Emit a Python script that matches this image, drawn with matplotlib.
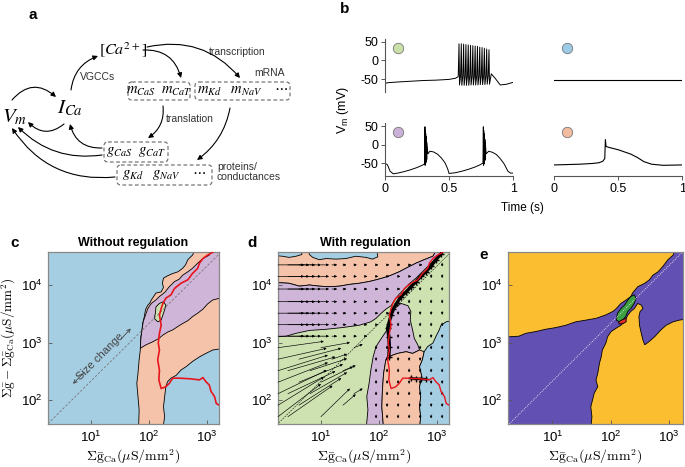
import numpy as np
import matplotlib
matplotlib.use('Agg')
import matplotlib.pyplot as plt
from matplotlib.patches import FancyBboxPatch
from matplotlib.ticker import NullLocator

plt.rcParams['font.family'] = ['Liberation Sans', 'DejaVu Sans']
plt.rcParams['mathtext.fontset'] = 'custom'
plt.rcParams['mathtext.rm'] = 'Liberation Sans'
plt.rcParams['mathtext.it'] = 'Liberation Sans:italic'
plt.rcParams['mathtext.bf'] = 'Liberation Sans:bold'
plt.rcParams['axes.unicode_minus'] = False

# ---------------------------------------------------------------- panel b data
# time in s, membrane potential in mV
green_t = [0.0, 0.02, 0.10, 0.20, 0.30, 0.40, 0.50, 0.55, 0.57]
green_v = [-62, -60, -58, -56, -54, -53, -51, -48, -44]
green_spike_t = [0.578, 0.596, 0.614, 0.632, 0.650, 0.668, 0.686,
                 0.704, 0.722, 0.740, 0.758, 0.776, 0.794, 0.812]
green_spike_peak = [45, 45, 44, 43, 42, 41, 40, 39, 38, 36, 35, 33, 31, 29]
green_spike_trough = [-66, -67, -67, -67, -67, -66, -66,
                      -66, -66, -65, -65, -65, -64, -64]
green_tail_t = [0.83, 0.86, 0.90, 0.95, 1.00]
green_tail_v = [-36, -48, -66, -64, -59]

blue_t = [0.0, 1.0]
blue_v = [-53, -53]

purple_t = [0.0, 0.02, 0.04, 0.065, 0.10, 0.15, 0.20, 0.25, 0.29, 0.31,
            0.312, 0.314, 0.315, 0.317, 0.318, 0.320, 0.321, 0.323, 0.324, 0.326, 0.327,
            0.335, 0.35, 0.38, 0.41, 0.44, 0.47, 0.49, 0.50, 0.55, 0.60, 0.65, 0.70, 0.74, 0.765,
            0.768, 0.770, 0.771, 0.773, 0.774, 0.776, 0.777, 0.779, 0.780, 0.782, 0.783,
            0.79, 0.81, 0.84, 0.87, 0.90, 0.93, 0.96, 0.98, 1.0]
purple_v = [-50, -55, -72, -79, -77, -73, -68, -62, -56, -52,
            48, -56, 38, -52, 30, -48, 22, -44, 14, -40, 6,
            -25, -18, -20, -26, -36, -50, -66, -78, -76, -72, -67, -61, -55, -50,
            48, -56, 38, -52, 30, -48, 22, -44, 14, -40, 6,
            -25, -18, -21, -27, -38, -52, -72, -77, -77]

salmon_t = [0.0, 0.1, 0.2, 0.3, 0.35, 0.38, 0.395, 0.40, 0.405, 0.42,
            0.5, 0.6, 0.65, 0.7, 0.76, 0.85, 1.0]
salmon_v = [-55, -54, -53, -51, -49, -45, -38, 13, -5, -7,
            -14, -26, -35, -46, -53, -56, -55]

# --------------------------------------------------- panels c-e data (log10 units)
# x: log10 sum gCa, y: log10 (sum g - sum gCa), both in uS/mm^2
c_band_x = [1.82, 1.83, 1.81, 1.79, 1.81, 1.83, 1.85, 1.86, 1.88, 1.89, 1.92, 1.94,
            1.98, 2.01, 2.04, 2.08, 2.12, 2.21, 2.25, 2.23, 2.25, 2.32, 2.41, 2.50,
            2.58, 2.63, 2.67, 2.75, 2.84, 3.30, 3.30, 3.10, 2.98, 2.87, 2.75, 2.64,
            2.55, 2.47, 2.38, 2.32, 2.29, 2.27, 2.25, 2.27, 2.24]
c_band_y = [1.50, 1.83, 2.06, 2.29, 2.46, 2.70, 2.87, 3.10, 3.22, 3.33, 3.45, 3.57,
            3.65, 3.68, 3.74, 3.80, 3.86, 3.88, 3.96, 4.03, 4.12, 4.16, 4.20, 4.23,
            4.29, 4.35, 4.44, 4.52, 4.70, 4.70, 2.90, 2.87, 2.81, 2.75, 2.67, 2.58,
            2.52, 2.43, 2.38, 2.32, 2.23, 2.06, 1.88, 1.71, 1.50]
c_purple_x = [3.08, 3.04, 2.93, 2.84, 2.75, 2.67, 2.58, 2.52, 2.44, 2.35, 2.27, 2.18,
              2.12, 2.04, 1.98, 1.94, 1.90, 1.88, 1.86, 1.85, 1.95, 2.06, 2.17, 2.24,
              2.32, 2.41, 2.50, 2.58, 2.67, 2.75, 2.84, 2.93, 3.01, 3.10, 3.30, 3.30]
c_purple_y = [4.70, 4.52, 4.46, 4.38, 4.29, 4.23, 4.17, 4.10, 4.06, 3.97, 3.87, 3.80,
              3.74, 3.68, 3.59, 3.48, 3.36, 3.22, 3.07, 2.90, 2.96, 3.01, 3.07, 3.13,
              3.18, 3.22, 3.28, 3.33, 3.38, 3.45, 3.51, 3.58, 3.67, 3.74, 3.79, 4.70]
c_green_x = [2.12, 2.18, 2.25, 2.29, 2.27, 2.24, 2.21, 2.15, 2.09, 2.11]
c_green_y = [3.62, 3.68, 3.71, 3.65, 3.57, 3.48, 3.39, 3.36, 3.42, 3.51]

traj_red_x = [3.10, 3.01, 2.93, 2.87, 2.84, 2.75, 2.67, 2.55, 2.44, 2.38, 2.29, 2.24,
              2.21, 2.18, 2.21, 2.18, 2.16, 2.18, 2.15, 2.18, 2.17, 2.21, 2.29, 2.35,
              2.41, 2.52, 2.70, 2.87, 2.93, 2.98, 3.04, 3.07, 3.13, 3.16, 3.21]
traj_red_y = [4.57, 4.52, 4.46, 4.38, 4.29, 4.20, 4.09, 4.03, 3.94, 3.83, 3.77, 3.68,
              3.59, 3.48, 3.30, 3.16, 2.99, 2.87, 2.70, 2.52, 2.35, 2.20, 2.23, 2.29,
              2.38, 2.38, 2.37, 2.35, 2.39, 2.32, 2.26, 2.15, 2.06, 1.94, 1.91]
traj_black_x = [2.17, 2.18, 2.17, 2.15, 2.17, 2.21, 2.25, 2.31, 2.38, 2.47, 2.55, 2.64,
                2.72, 2.81, 2.90, 2.98, 3.07]
traj_black_y = [2.75, 2.93, 3.10, 3.25, 3.33, 3.48, 3.59, 3.69, 3.80, 3.88, 3.97, 4.06,
                4.15, 4.23, 4.33, 4.44, 4.54]
traj_black2_x = [2.55, 2.64, 2.72, 2.81]
traj_black2_y = [2.38, 2.37, 2.37, 2.36]

d_salmon_x = [0.10, 3.05, 2.93, 2.78, 2.64, 2.50, 2.35, 2.21, 2.06, 1.95, 1.83, 1.66,
              1.49, 1.32, 1.14, 0.97, 0.80, 0.63, 0.45, 0.10]
d_salmon_y = [4.70, 4.70, 4.50, 4.44, 4.38, 4.31, 4.23, 4.17, 4.12, 4.09, 4.06, 4.03,
              4.01, 3.98, 3.97, 3.98, 4.00, 3.98, 4.03, 4.05]
d_purple_x = [0.10, 0.45, 0.63, 0.80, 0.97, 1.14, 1.32, 1.49, 1.66, 1.83, 1.95, 2.06,
              2.21, 2.35, 2.50, 2.64, 2.78, 2.93, 3.05, 3.15, 3.10, 2.98, 2.87, 2.75,
              2.64, 2.52, 2.44, 2.34, 2.27, 2.21, 2.12, 2.04, 1.95, 1.86, 1.66, 1.37,
              1.09, 0.80, 0.57, 0.40, 0.10]
d_purple_y = [4.05, 4.03, 3.98, 4.00, 3.98, 3.97, 3.98, 4.01, 4.03, 4.06, 4.09, 4.12,
              4.17, 4.23, 4.31, 4.38, 4.44, 4.50, 4.70, 4.70, 4.57, 4.46, 4.35, 4.23,
              4.12, 4.02, 3.93, 3.83, 3.74, 3.64, 3.58, 3.51, 3.42, 3.36, 3.30, 3.26,
              3.23, 3.21, 3.16, 3.11, 3.09]
d_strip_x = [1.78, 1.81, 1.79, 1.83, 1.86, 1.90, 1.95, 2.04, 2.12, 2.17, 2.21, 2.27,
             2.38, 2.50, 2.55, 2.54, 2.58, 2.61, 2.67, 2.70, 2.58, 2.47, 2.32, 2.21,
             2.12, 2.08, 2.06, 2.05, 2.08]
d_strip_y = [1.50, 1.83, 2.06, 2.29, 2.52, 2.75, 2.93, 3.07, 3.19, 3.30, 3.48, 3.59,
             3.68, 3.64, 3.54, 3.39, 3.22, 3.07, 2.96, 2.87, 2.81, 2.84, 2.81, 2.77,
             2.70, 2.46, 2.17, 1.88, 1.50]
d_salmon2_x = [2.08, 2.05, 2.06, 2.08, 2.12, 2.21, 2.32, 2.47, 2.58, 2.70, 2.78, 2.75,
               2.70, 2.74, 2.70, 2.72, 2.70, 2.72, 2.70]
d_salmon2_y = [1.50, 1.88, 2.17, 2.46, 2.70, 2.77, 2.81, 2.84, 2.81, 2.87, 2.84, 2.70,
               2.58, 2.41, 2.23, 2.06, 1.88, 1.71, 1.50]
d_blue_x = [2.70, 2.72, 2.70, 2.72, 2.70, 2.74, 2.70, 2.75, 2.78, 2.84, 2.93, 2.98,
            3.04, 3.07, 3.16, 3.30, 3.30]
d_blue_y = [1.50, 1.71, 1.88, 2.06, 2.23, 2.41, 2.58, 2.70, 2.84, 2.93, 2.99, 3.10,
            3.22, 3.30, 3.36, 3.39, 1.50]
d_blob1_x = [0.10, 0.68, 0.67, 0.57, 0.45, 0.34, 0.10]
d_blob1_y = [4.70, 4.70, 4.53, 4.50, 4.48, 4.50, 4.52]
d_blob2_x = [0.77, 1.95, 1.98, 1.89, 1.78, 1.60, 1.43, 1.26, 1.09, 0.97, 0.86, 0.80]
d_blob2_y = [4.70, 4.70, 4.49, 4.45, 4.48, 4.50, 4.46, 4.45, 4.46, 4.44, 4.48, 4.53]

# regulation vector field in d
grid_lx = [0.26, 0.43, 0.62, 0.81, 1.00, 1.19, 1.38, 1.57, 1.76, 1.95, 2.14, 2.33,
           2.52, 2.71, 2.90, 3.09]
h_len = [0.45, 0.37, 0.28, 0.19, 0.14, 0.09, 0.06, 0.05, 0.04, 0.04, 0.04, 0.04,
         0.04, 0.04, 0.04, 0.04]
h_rows = [4.35, 4.15, 3.93, 3.71, 3.51, 3.31, 3.11]
h_stop = [2.71, 2.52, 2.33, 2.14, 2.14, 1.95, 1.76]
d_rows = [4.35, 4.15, 3.93, 3.71, 3.51, 3.31, 3.11, 2.91, 2.71, 2.51, 2.31, 2.11, 1.91, 1.71]
d_from = [3.09, 2.90, 2.71, 2.52, 2.33, 2.33, 2.33, 1.95, 1.95, 1.95, 1.95, 1.95, 1.95, 1.95]
fan_x0 = [0.26, 0.26, 0.26, 0.26, 0.26, 0.26, 0.26, 0.43, 0.43, 0.43, 0.62, 0.62, 0.62,
          0.81, 0.81, 1.00, 1.00, 1.00, 1.19, 1.38, 1.38, 1.57, 1.57]
fan_y0 = [2.91, 2.71, 2.51, 2.31, 2.11, 1.91, 1.71, 2.51, 2.11, 1.71, 2.71, 2.31, 1.91,
          2.51, 2.11, 2.91, 2.31, 1.71, 2.71, 2.51, 1.91, 2.11, 2.91]
fan_x1 = [1.05, 1.10, 1.12, 1.12, 1.10, 1.05, 1.00, 1.25, 1.25, 1.20, 1.35, 1.38, 1.35,
          1.45, 1.45, 1.50, 1.55, 1.50, 1.45, 1.60, 1.60, 1.72, 1.72]
fan_y1 = [3.02, 2.90, 2.78, 2.65, 2.52, 2.40, 2.28, 2.75, 2.50, 2.25, 2.90, 2.62, 2.38,
          2.72, 2.48, 3.00, 2.58, 2.20, 2.80, 2.60, 2.10, 2.20, 2.97]

e_purple_x = [0.10, 0.42, 0.54, 0.71, 0.88, 1.06, 1.23, 1.40, 1.58, 1.75, 1.92, 2.04,
              2.10, 2.18, 2.27, 2.35, 2.38, 2.47, 2.59, 2.67, 2.73, 2.82, 2.90, 2.99,
              3.08, 3.13, 3.40, 3.40, 3.19, 3.08, 2.96, 2.87, 2.76, 2.67, 2.59, 2.56,
              2.53, 2.50, 2.49, 2.51, 2.56, 2.53, 2.47, 2.41, 2.35, 2.30, 2.24, 2.18,
              2.10, 2.01, 1.95, 1.92, 1.86, 1.84, 1.81, 1.78, 1.75, 1.78, 1.72, 1.69,
              1.66, 1.68, 1.66, 0.10]
e_purple_y = [3.09, 3.11, 3.16, 3.19, 3.23, 3.26, 3.30, 3.36, 3.39, 3.42, 3.48, 3.54,
              3.59, 3.68, 3.74, 3.80, 3.86, 3.97, 4.03, 4.09, 4.17, 4.23, 4.32, 4.44,
              4.52, 4.70, 4.70, 3.42, 3.39, 3.36, 3.30, 3.22, 3.10, 3.02, 2.96, 3.04,
              3.16, 3.30, 3.45, 3.54, 3.59, 3.65, 3.68, 3.59, 3.54, 3.48, 3.36, 3.30,
              3.25, 3.19, 3.10, 2.99, 2.87, 2.75, 2.64, 2.46, 2.35, 2.23, 2.12, 2.00,
              1.88, 1.71, 1.50, 1.50]
e_green_x = [2.10, 2.12, 2.18, 2.24, 2.30, 2.35, 2.41, 2.44, 2.41, 2.35, 2.30, 2.26, 2.21, 2.15]
e_green_y = [3.39, 3.51, 3.59, 3.65, 3.74, 3.80, 3.83, 3.77, 3.68, 3.59, 3.54, 3.45, 3.39, 3.36]
e_red_x = [2.14, 2.21, 2.27, 2.27, 2.22, 2.15]
e_red_y = [3.36, 3.40, 3.42, 3.36, 3.33, 3.32]

diag_gca = [1.0, 5000.0]
diag_rest = [21.4, 107000.0]

BLUE, SALMON, PURPLE, GREEN = '#a6cee3', '#f4c3a9', '#cfb5d8', '#cde2b0'
E_ORANGE, E_PURPLE, E_GREEN, E_RED = '#fbbe30', '#6250b3', '#3b9e3f', '#e42a27'
RED = '#e8141c'

fig = plt.figure(figsize=(6.85, 4.67), dpi=100)

# ------------------------------------------------ overlay in pixel coordinates
ov = fig.add_axes([0, 0, 1, 1])
ov.set_xlim(0, 685)
ov.set_ylim(467, 0)
ov.axis('off')

lab = dict(fontsize=11, fontweight='bold', ha='center', va='center')
ov.text(33, 15, 'a', **lab)
ov.text(345, 9, 'b', **lab)
ov.text(15, 243, 'c', **lab)
ov.text(252, 243, 'd', **lab)
ov.text(484, 255, 'e', **lab)
ov.text(133, 243, 'Without regulation', fontsize=9, fontweight='bold', ha='center', va='center')
ov.text(365, 243, 'With regulation', fontsize=9, fontweight='bold', ha='center', va='center')

# diagram (panel a)
small = dict(fontsize=7.5, color='#333333', va='center')
mt = dict(math_fontfamily='stix', ha='center', va='center')
ov.text(123, 50, r'$[Ca^{2+}]$', fontsize=11.5, **mt)
ov.text(15, 117, r'$V_m$', fontsize=15, **mt)
ov.text(70, 108, r'$I_{Ca}$', fontsize=15, **mt)
ov.text(237, 52, 'transcription', ha='center', **small)
ov.text(98, 77, 'VGCCs', ha='center', **small)
ov.text(270, 73, 'mRNA', ha='center', **small)
ov.text(190, 119, 'translation', ha='center', **small)
ov.text(217, 172, 'proteins/\nconductances', ha='left', linespacing=1.1, **small)

boxes = [((128, 82), 62, 18, r'$m_{CaS}\ \ m_{CaT}$'),
         ((195, 82), 95, 18, r'$m_{Kd}\ \ \ m_{NaV}\ \ \ \ \cdots$'),
         ((104, 142), 64, 20, r'$g_{CaS}\ \ g_{CaT}$'),
         ((117, 165), 95, 20, r'$g_{Kd}\ \ \ g_{NaV}\ \ \ \ \cdots$')]
for (bx, by), bw, bh, txt in boxes:
    ov.add_patch(FancyBboxPatch((bx, by), bw, bh, boxstyle='round,pad=0,rounding_size=4',
                                fill=False, ec='#777777', lw=0.9, ls=(0, (3, 2))))
    ov.text(bx + bw / 2, by + bh / 2, txt, fontsize=10.5, **mt)

arrows = [((12, 100), (56, 97), -0.5),
          ((64, 124), (28, 122), -0.45),
          ((71, 90), (98, 56), -0.3),
          ((143, 50), (181, 78), -0.4),
          ((147, 47), (240, 78), -0.3),
          ((163, 106), (148, 138), -0.3),
          ((230, 108), (197, 160), -0.2),
          ((102, 148), (70, 124), -0.4),
          ((102, 155), (18, 127), -0.25),
          ((115, 177), (12, 128), -0.3)]
for p0, p1, rad in arrows:
    ov.annotate('', xy=p1, xytext=p0,
                arrowprops=dict(arrowstyle='-|>', color='black', lw=0.8, shrinkA=0,
                                shrinkB=0, mutation_scale=7,
                                connectionstyle=f'arc3,rad={rad}'))

# panel b labels
ov.text(343, 110, r'V$_\mathrm{m}$ (mV)', fontsize=9, rotation=90, ha='center', va='center')
ov.text(522, 208, 'Time (s)', fontsize=8.5, ha='center', va='center')

# axis labels of c-e
xlab = r'$\Sigma\bar{\mathrm{g}}_{\mathrm{Ca}}(\mu\mathrm{S/mm}^2)$'
ylab = r'$\Sigma\bar{\mathrm{g}}-\Sigma\bar{\mathrm{g}}_{\mathrm{Ca}}(\mu\mathrm{S/mm}^2)$'
for cx in (133, 364, 595):
    ov.text(cx, 457, xlab, fontsize=10, math_fontfamily='cm', ha='center', va='center')
ov.text(9, 338, ylab, fontsize=9.5, math_fontfamily='cm', rotation=90, ha='center', va='center')

# ------------------------------------------------------------------ panel b
def trace_ax(rect, left, bottom):
    ax = fig.add_axes(rect)
    ax.set_xlim(0, 1)
    ax.set_ylim(-85, 58)
    ax.patch.set_alpha(0)
    for side in ('top', 'right'):
        ax.spines[side].set_visible(False)
    ax.spines['left'].set_visible(left)
    ax.spines['bottom'].set_visible(bottom)
    for s in ax.spines.values():
        s.set_color('#555555')
        s.set_linewidth(0.8)
    ax.tick_params(length=3, width=0.7, color='#555555', labelsize=9, pad=2,
                   left=left, labelleft=left, bottom=bottom, labelbottom=bottom)
    ax.set_yticks([-50, 0, 50])
    ax.set_xticks([0, 0.5, 1])
    ax.set_xticklabels(['0', '0.5', '1'])
    return ax

def spikes(ts, peaks, troughs, pre):
    t, v = [], []
    for a, p, q in zip(ts, peaks, troughs):
        t += [a - 0.006, a, a + 0.004]
        v += [pre, p, q]
    return t, v

ax = trace_ax([0.562, 0.803, 0.187, 0.1135], True, False)
st, sv = spikes(green_spike_t, green_spike_peak, green_spike_trough, -42)
ax.plot(green_t + st + green_tail_t, green_v + sv + green_tail_v, color='black', lw=0.7)
ax.plot(0.1, 33, 'o', ms=7.5, mfc='#c9e0a8', mec='#777777', mew=0.6)

ax = trace_ax([0.809, 0.803, 0.187, 0.1135], False, False)
ax.plot(blue_t, blue_v, color='black', lw=0.8)
ax.plot(0.1, 33, 'o', ms=7.5, mfc='#9ccbe8', mec='#777777', mew=0.6)

ax = trace_ax([0.562, 0.623, 0.187, 0.1135], True, True)
ax.plot(purple_t, purple_v, color='black', lw=0.7)
ax.plot(0.1, 33, 'o', ms=7.5, mfc='#cbb0d8', mec='#777777', mew=0.6)

ax = trace_ax([0.809, 0.623, 0.187, 0.1135], False, True)
ax.plot(salmon_t, salmon_v, color='black', lw=0.8)
ax.plot(0.1, 33, 'o', ms=7.5, mfc='#f3bba0', mec='#777777', mew=0.6)

# -------------------------------------------------------------- panels c-e
YLIM = (10 ** 1.583, 10 ** 4.574)

def region_ax(rect, face, xlim):
    ax = fig.add_axes(rect)
    ax.set_xscale('log')
    ax.set_yscale('log')
    ax.set_xlim(xlim)
    ax.set_ylim(YLIM)
    ax.set_facecolor(face)
    ax.set_xticks([10, 100, 1000])
    ax.set_yticks([100, 1000, 10000])
    ax.xaxis.set_minor_locator(NullLocator())
    ax.yaxis.set_minor_locator(NullLocator())
    ax.tick_params(direction='in', length=3, width=0.6, color='#555555',
                   labelsize=9.5, pad=4)
    for s in ax.spines.values():
        s.set_color('#888888')
        s.set_linewidth(0.9)
    return ax

def region(ax, xs, ys, color, lw=0.6):
    ax.fill(10 ** np.asarray(xs), 10 ** np.asarray(ys), facecolor=color,
            edgecolor='black', lw=lw, zorder=1)

def arrow(ax, x0, y0, x1, y1, ms=3.5, lw=0.5):
    ax.annotate('', xy=(10 ** x1, 10 ** y1), xytext=(10 ** x0, 10 ** y0),
                arrowprops=dict(arrowstyle='-|>', color='black', lw=lw, shrinkA=0,
                                shrinkB=0, mutation_scale=ms))

# c: without regulation
ax = region_ax([0.0701, 0.0921, 0.2496, 0.3683], BLUE, (10 ** 0.259, 10 ** 3.207))
region(ax, c_band_x, c_band_y, SALMON)
region(ax, c_purple_x, c_purple_y, PURPLE)
region(ax, c_green_x, c_green_y, GREEN)
ax.plot(diag_gca, diag_rest, ls=(0, (3, 2)), color='#777777', lw=0.6, zorder=2)
ax.plot(10 ** np.asarray(traj_red_x), 10 ** np.asarray(traj_red_y), color=RED, lw=1.2, zorder=3)
ax.text(0.305, 0.392, 'Size change', transform=ax.transAxes, rotation=45, fontsize=8,
        color='#444444', ha='center', va='center', rotation_mode='anchor')
ax.annotate('', xy=(0.135, 0.222), xytext=(0.222, 0.311), xycoords='axes fraction',
            arrowprops=dict(arrowstyle='->', color='#444444', lw=0.6, mutation_scale=6))
ax.annotate('', xy=(0.495, 0.567), xytext=(0.417, 0.483), xycoords='axes fraction',
            arrowprops=dict(arrowstyle='->', color='#444444', lw=0.6, mutation_scale=6))

# d: with regulation
ax = region_ax([0.4058, 0.0921, 0.2496, 0.3683], GREEN, (10 ** 0.259, 10 ** 3.207))
region(ax, d_salmon_x, d_salmon_y, SALMON)
region(ax, d_blob1_x, d_blob1_y, BLUE)
region(ax, d_blob2_x, d_blob2_y, BLUE)
region(ax, d_purple_x, d_purple_y, PURPLE)
region(ax, d_strip_x, d_strip_y, PURPLE)
region(ax, d_salmon2_x, d_salmon2_y, SALMON)
region(ax, d_blue_x, d_blue_y, BLUE)
ax.plot(diag_gca, diag_rest, ls=(0, (3, 2)), color='black', lw=0.4, zorder=2)
for ly, stop in zip(h_rows, h_stop):
    for lx, ln in zip(grid_lx, h_len):
        if lx <= stop:
            arrow(ax, lx, ly, lx + ln, ly)
for ly, start in zip(d_rows, d_from):
    for lx in grid_lx:
        if lx >= start:
            arrow(ax, lx, ly + 0.03, lx, ly - 0.03, ms=3)
for x0, y0, x1, y1 in zip(fan_x0, fan_y0, fan_x1, fan_y1):
    arrow(ax, x0, y0, x1, y1, lw=0.45)
ax.plot(10 ** np.asarray(traj_black_x), 10 ** np.asarray(traj_black_y), color='black',
        lw=2.4, marker='+', ms=5, zorder=3)
ax.plot(10 ** np.asarray(traj_black2_x), 10 ** np.asarray(traj_black2_y), color='black',
        lw=1.8, marker='+', ms=5, zorder=3)
ax.plot(10 ** np.asarray(traj_red_x), 10 ** np.asarray(traj_red_y), color=RED, lw=1.0, zorder=4)

# e: outcome classes
ax = region_ax([0.7416, 0.0921, 0.2555, 0.3683], E_ORANGE, (10 ** 0.233, 10 ** 3.25))
region(ax, e_purple_x, e_purple_y, E_PURPLE)
region(ax, e_green_x, e_green_y, E_GREEN)
region(ax, e_red_x, e_red_y, E_RED)
ax.plot(diag_gca, diag_rest, ls=(0, (1, 1.5)), color='white', lw=0.6, zorder=2)

fig.savefig('out.png', dpi=100)
